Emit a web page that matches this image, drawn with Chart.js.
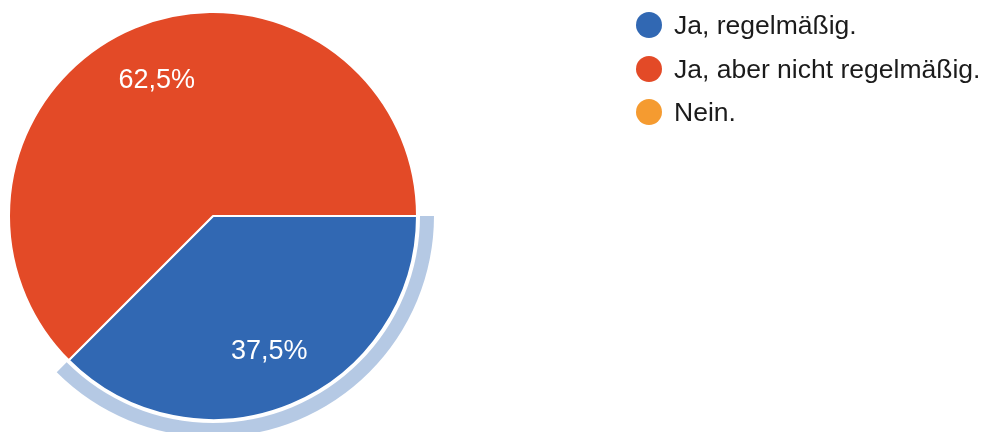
<!DOCTYPE html>
<html>
<head>
<meta charset="utf-8">
<script src="https://cdn.jsdelivr.net/npm/chart.js@4"></script>
<style>
    html, body { margin: 0; padding: 0; background: #fff; }
    #wrap { position: relative; width: 995px; height: 432px; }
    #chart { position: absolute; left: 0; top: 0; }
    #legend { position: absolute; left: 636px; top: 0; font-family: "Liberation Sans", Arial, sans-serif; font-size: 26.5px; color: #1b1b1b; }
    .item { position: absolute; left: 0; white-space: nowrap; height: 30px; line-height: 30px; }
    .dot { position: absolute; left: 0; top: 2px; width: 26px; height: 26px; border-radius: 50%; }
    .txt { position: absolute; left: 38px; top: 0; }
</style>
</head>
<body>
<div id="wrap">
    <canvas id="chart" width="995" height="432"></canvas>
    <div id="legend"></div>
</div>
<script>
const labels = ['Ja, regelmäßig.', 'Ja, aber nicht regelmäßig.', 'Nein.'];
const values = [37.5, 62.5, 0];
const colors = ['#3168b3', '#e34a27', '#f59b30'];
const highlight = 'rgba(49, 104, 179, 0.36)';
const selected = 0; // slice with the highlight ring

// legend
const legendEl = document.getElementById('legend');
labels.forEach((l, i) => {
    const item = document.createElement('div');
    item.className = 'item';
    item.style.top = (10 + i * 43.5) + 'px';
    item.innerHTML = `<span class="dot" style="background:${ colors[i] }"></span><span class="txt">${ l }</span>`;
    legendEl.appendChild(item);
});

// ring around the selected slice
const ringPlugin = {
    id: 'ring',
    afterDatasetsDraw(chart){
        const arc = chart.getDatasetMeta(0).data[selected];
        if (!arc) return;
        const ctx = chart.ctx;
        const r0 = arc.outerRadius + 3, r1 = arc.outerRadius + 17;
        ctx.save();
        ctx.beginPath();
        ctx.arc(arc.x, arc.y, r1, arc.startAngle, arc.endAngle);
        ctx.arc(arc.x, arc.y, r0, arc.endAngle, arc.startAngle, true);
        ctx.closePath();
        ctx.fillStyle = highlight;
        ctx.fill();
        ctx.restore();
    }
};

// percentage labels inside slices
const pctPlugin = {
    id: 'pct',
    afterDatasetsDraw(chart){
        const ctx = chart.ctx;
        const total = values.reduce((a, b) => a + b, 0);
        chart.getDatasetMeta(0).data.forEach((arc, i) => {
            if (!values[i]) return;
            const mid = (arc.startAngle + arc.endAngle) / 2;
            const r = arc.outerRadius * 0.72;
            const text = new Intl.NumberFormat('de-DE', { minimumFractionDigits: 1 }).format(values[i] / total * 100) + '%';
            ctx.save();
            ctx.font = '27px "Liberation Sans", Arial, sans-serif';
            ctx.fillStyle = '#ffffff';
            ctx.textAlign = 'center';
            ctx.textBaseline = 'middle';
            ctx.fillText(text, arc.x + Math.cos(mid) * r, arc.y + Math.sin(mid) * r);
            ctx.restore();
        });
    }
};

new Chart(document.getElementById('chart'), {
    type: 'pie',
    data: {
        labels: labels,
        datasets: [{
            data: values,
            backgroundColor: colors,
            borderColor: '#ffffff',
            borderWidth: 2,
        }]
    },
    options: {
        responsive: false,
        animation: false,
        rotation: 90,
        layout: { padding: { left: 8, top: 11, right: 577, bottom: 11 } },
        plugins: {
            legend: { display: false },
            tooltip: { enabled: false },
        }
    },
    plugins: [ringPlugin, pctPlugin]
});
</script>
</body>
</html>
